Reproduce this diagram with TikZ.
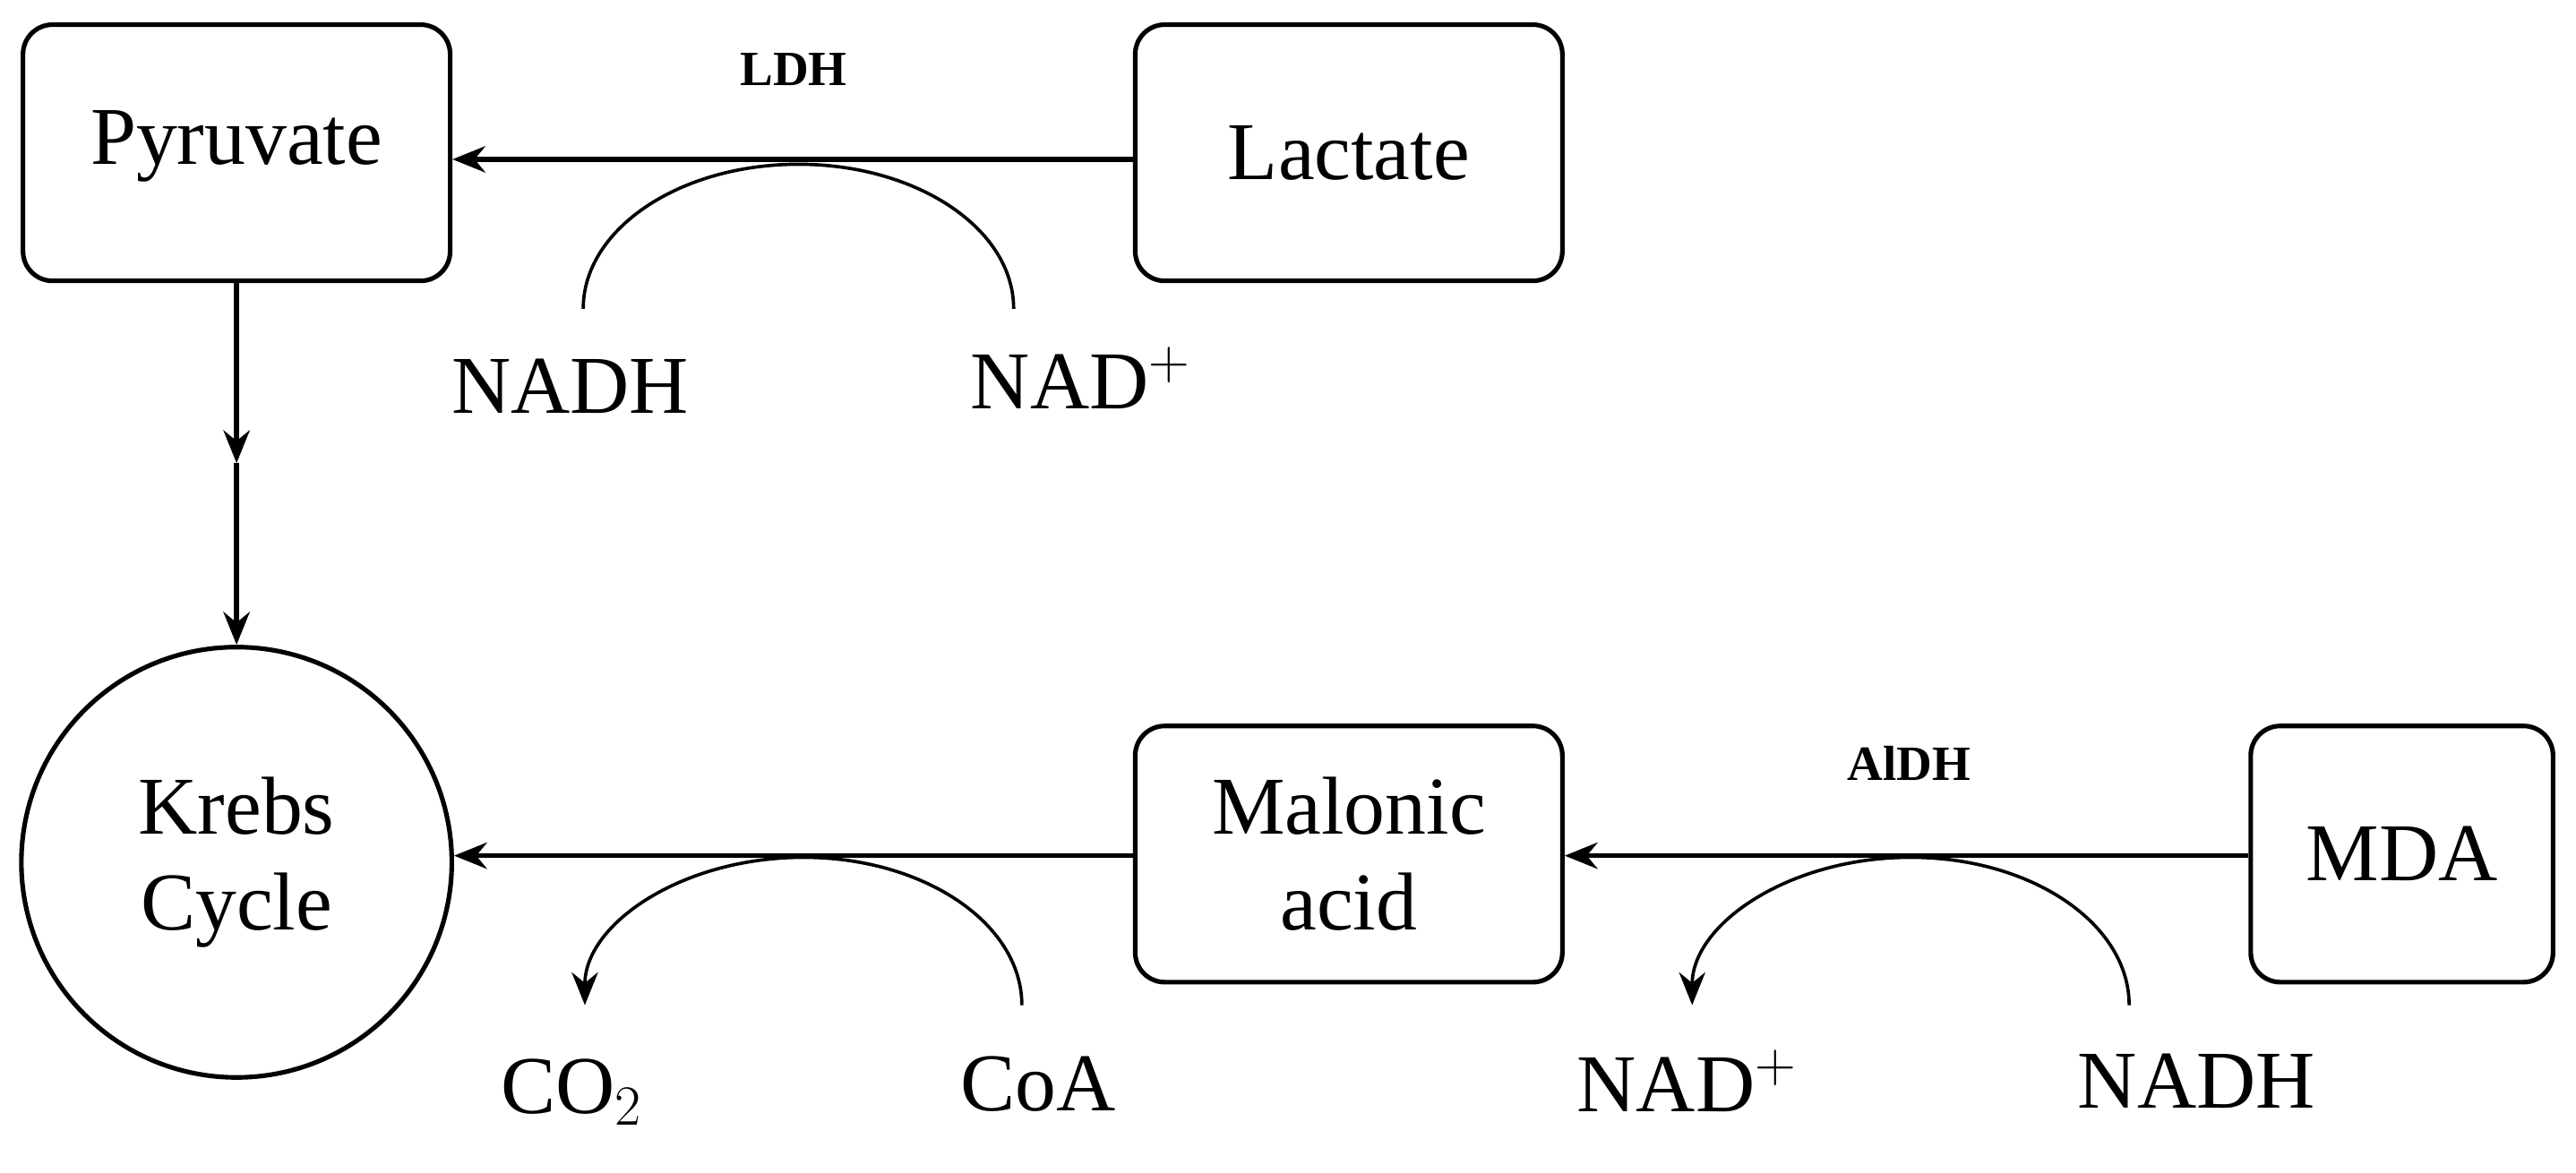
\documentclass[tikz,border=0pt]{standalone}
\usepackage{fontspec}
\setmainfont{Liberation Serif}
\usetikzlibrary{arrows.meta}
\begin{document}
\begin{tikzpicture}[x=0.5pt,y=-0.5pt,
  box/.style={draw,line width=1.4pt,rounded corners=9pt,minimum width=130pt,minimum height=78pt,align=center,font=\fontsize{25}{29}\selectfont,inner sep=0pt},
  lbl/.style={font=\fontsize{25}{29}\selectfont,inner sep=0pt},
  enz/.style={font=\fontsize{15}{17}\selectfont\bfseries,inner sep=0pt},
  tip/.style={-{Stealth[length=10pt,width=8pt]}},
  arr/.style={line width=1.5pt,tip},
  arc/.style={line width=1pt}]
\useasboundingbox (0,0) rectangle (1568,714);
\node[box,text height=0.7em,text depth=0pt] (pyr) at (144,93) {Pyruvate};
\node[box] (lac) at (821,93) {Lactate};
\node[box] (mal) at (821,520) {Malonic\\acid};
\node[box,minimum width=92pt] (mda) at (1462,520) {MDA};
\node[draw,circle,line width=1.4pt,minimum size=131pt,align=center,font=\fontsize{25}{29}\selectfont,inner sep=0pt] (kc) at (144,525) {Krebs\\Cycle};
\node[enz] (ldh) at (483,42) {LDH};
\node[enz] (aldh) at (1162,465) {AlDH};
\node[lbl] (nadh1) at (347,235) {NADH};
\node[lbl] (nad1) at (658,230) {NAD$^{+}$};
\node[lbl] (nad2) at (1027,658) {NAD$^{+}$};
\node[lbl] (nadh2) at (1337,658) {NADH};
\node[lbl] (co2) at (348,665) {CO$_2$};
\node[lbl] (coa) at (632,660) {CoA};
\draw[arr] (lac.west|-0,97) -- (pyr.east|-0,97);
\draw[arr] (mda.west|-0,521) -- (mal.east|-0,521);
\draw[arr] (mal.west|-0,521) -- (kc.east|-0,521);
\coordinate (pm) at (144,282);
\draw[arr] (pyr.south) -- (pm);
\draw[arr] (pm) -- (kc.north);
\coordinate (a1) at (355,188);
\draw[arc] (a1) arc[start angle=180,end angle=360,x radius=131,y radius=88];
\coordinate (a2) at (622,612);
\draw[arc,tip] (a2) arc[start angle=360,end angle=180,x radius=133,y radius=90];
\coordinate (a3) at (1296,612);
\draw[arc,tip] (a3) arc[start angle=360,end angle=180,x radius=133,y radius=90];
\end{tikzpicture}
\end{document}
